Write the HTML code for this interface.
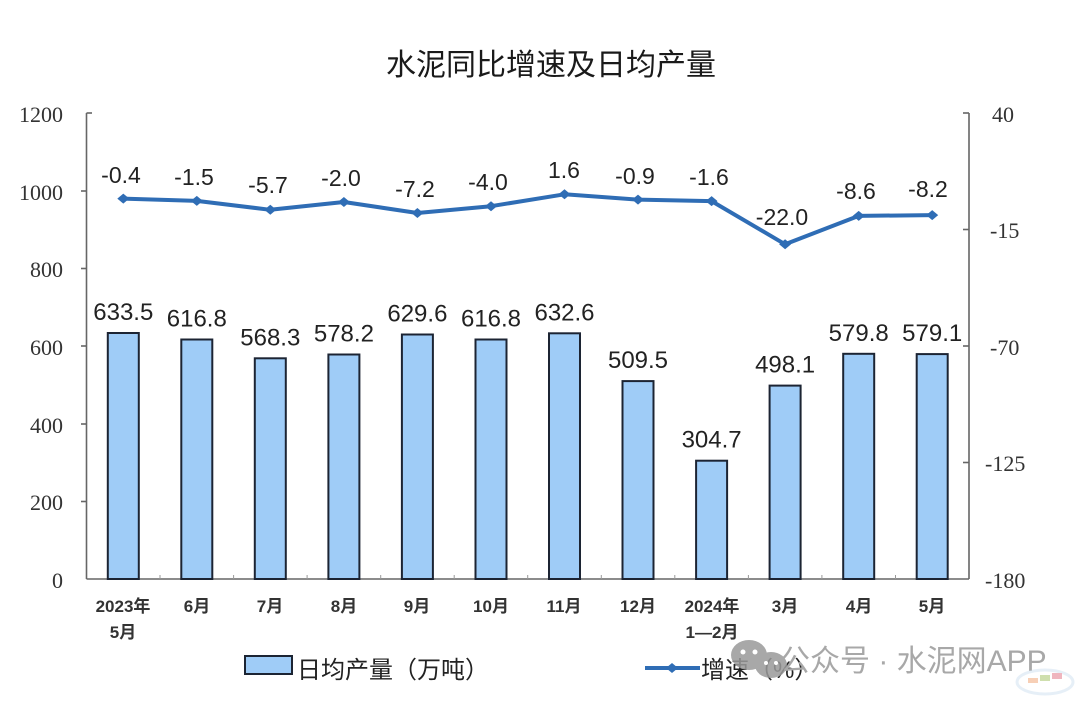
<!DOCTYPE html>
<html><head><meta charset="utf-8">
<style>
html,body{margin:0;padding:0;background:#fff;}
svg{display:block;}
</style></head>
<body>
<svg width="1080" height="703" viewBox="0 0 1080 703" xmlns="http://www.w3.org/2000/svg">
<rect width="1080" height="703" fill="#fff"/>
<text x="551" y="75" text-anchor="middle" font-family="'Liberation Sans','Noto Sans CJK SC',sans-serif" font-size="30" fill="#1a1a1a">水泥同比增速及日均产量</text>

<!-- axes -->
<g stroke="#666" stroke-width="1.6" fill="none">
<line x1="86.5" y1="113" x2="86.5" y2="579"/>
<line x1="969" y1="113" x2="969" y2="579"/>
<line x1="86.5" y1="579" x2="969" y2="579"/>
<line x1="86.5" y1="113" x2="92" y2="113"/>
<line x1="81" y1="191" x2="86.5" y2="191"/>
<line x1="81" y1="268.5" x2="86.5" y2="268.5"/>
<line x1="81" y1="346" x2="86.5" y2="346"/>
<line x1="81" y1="424" x2="86.5" y2="424"/>
<line x1="81" y1="501.5" x2="86.5" y2="501.5"/>
<line x1="963" y1="113" x2="969" y2="113"/>
<line x1="963" y1="229.5" x2="969" y2="229.5"/>
<line x1="963" y1="346" x2="969" y2="346"/>
<line x1="963" y1="462.5" x2="969" y2="462.5"/>
</g>
<g stroke="#999" stroke-width="1">
<line x1="160" y1="579" x2="160" y2="575"/>
<line x1="233.6" y1="579" x2="233.6" y2="575"/>
<line x1="307.1" y1="579" x2="307.1" y2="575"/>
<line x1="380.7" y1="579" x2="380.7" y2="575"/>
<line x1="454.2" y1="579" x2="454.2" y2="575"/>
<line x1="527.7" y1="579" x2="527.7" y2="575"/>
<line x1="601.3" y1="579" x2="601.3" y2="575"/>
<line x1="674.8" y1="579" x2="674.8" y2="575"/>
<line x1="748.4" y1="579" x2="748.4" y2="575"/>
<line x1="821.9" y1="579" x2="821.9" y2="575"/>
<line x1="895.5" y1="579" x2="895.5" y2="575"/>
</g>

<!-- left axis labels -->
<g font-family="'Liberation Serif',serif" font-size="22" fill="#333" text-anchor="end">
<text x="63" y="122">1200</text>
<text x="63" y="200">1000</text>
<text x="63" y="277">800</text>
<text x="63" y="355">600</text>
<text x="63" y="433">400</text>
<text x="63" y="510">200</text>
<text x="63" y="588">0</text>
</g>
<g font-family="'Liberation Serif',serif" font-size="22" fill="#333" text-anchor="start">
<text x="992" y="122">40</text>
<text x="990" y="238">-15</text>
<text x="990" y="355">-70</text>
<text x="985" y="471">-125</text>
<text x="985" y="588">-180</text>
</g>

<!-- bars -->
<g fill="#9fccf7" stroke="#1c2433" stroke-width="2">
<rect x="107.8" y="333" width="31" height="246"/>
<rect x="181.3" y="339.5" width="31" height="239.5"/>
<rect x="254.8" y="358.3" width="31" height="220.7"/>
<rect x="328.4" y="354.5" width="31" height="224.5"/>
<rect x="401.9" y="334.5" width="31" height="244.5"/>
<rect x="475.5" y="339.5" width="31" height="239.5"/>
<rect x="549" y="333.3" width="31" height="245.7"/>
<rect x="622.5" y="381.1" width="31" height="197.9"/>
<rect x="696.1" y="460.7" width="31" height="118.3"/>
<rect x="769.6" y="385.6" width="31" height="193.4"/>
<rect x="843.2" y="353.8" width="31" height="225.2"/>
<rect x="916.7" y="354.1" width="31" height="224.9"/>
</g>

<!-- bar labels -->
<g font-family="'Liberation Sans',sans-serif" font-size="24" fill="#222" text-anchor="middle">
<text x="123.3" y="320">633.5</text>
<text x="196.8" y="326.5">616.8</text>
<text x="270.3" y="345.3">568.3</text>
<text x="343.9" y="341.5">578.2</text>
<text x="417.4" y="321.5">629.6</text>
<text x="491" y="326.5">616.8</text>
<text x="564.5" y="320.3">632.6</text>
<text x="638" y="368.1">509.5</text>
<text x="711.6" y="447.7">304.7</text>
<text x="785.1" y="372.6">498.1</text>
<text x="858.7" y="340.8">579.8</text>
<text x="932.2" y="341.1">579.1</text>
</g>

<!-- line -->
<polyline fill="none" stroke="#2f6db5" stroke-width="4" stroke-linejoin="round"
points="123.3,198.6 196.8,200.9 270.3,209.8 343.9,202 417.4,213 491,206.2 564.5,194.3 638,199.6 711.6,201.1 785.1,244.3 858.7,215.9 932.2,215.1"/>
<g fill="#2f6db5">
<path d="M117.3,198.6 L123.3,193.6 L129.3,198.6 L123.3,203.6Z"/>
<path d="M190.8,200.9 L196.8,195.9 L202.8,200.9 L196.8,205.9Z"/>
<path d="M264.3,209.8 L270.3,204.8 L276.3,209.8 L270.3,214.8Z"/>
<path d="M337.9,202 L343.9,197 L349.9,202 L343.9,207Z"/>
<path d="M411.4,213 L417.4,208 L423.4,213 L417.4,218Z"/>
<path d="M485,206.2 L491,201.2 L497,206.2 L491,211.2Z"/>
<path d="M558.5,194.3 L564.5,189.3 L570.5,194.3 L564.5,199.3Z"/>
<path d="M632,199.6 L638,194.6 L644,199.6 L638,204.6Z"/>
<path d="M705.6,201.1 L711.6,196.1 L717.6,201.1 L711.6,206.1Z"/>
<path d="M779.1,244.3 L785.1,239.3 L791.1,244.3 L785.1,249.3Z"/>
<path d="M852.7,215.9 L858.7,210.9 L864.7,215.9 L858.7,220.9Z"/>
<path d="M926.2,215.1 L932.2,210.1 L938.2,215.1 L932.2,220.1Z"/>
</g>

<!-- line labels -->
<g font-family="'Liberation Sans',sans-serif" font-size="23" fill="#222" text-anchor="middle">
<text x="121" y="183">-0.4</text>
<text x="194" y="185">-1.5</text>
<text x="268" y="193">-5.7</text>
<text x="341" y="186">-2.0</text>
<text x="415" y="197">-7.2</text>
<text x="488" y="190">-4.0</text>
<text x="564" y="178">1.6</text>
<text x="635" y="184">-0.9</text>
<text x="709" y="185">-1.6</text>
<text x="782" y="225">-22.0</text>
<text x="856" y="199">-8.6</text>
<text x="928" y="197">-8.2</text>
</g>

<!-- x labels -->
<g font-family="'Liberation Sans','Noto Sans CJK SC',sans-serif" font-size="17" font-weight="bold" fill="#333" text-anchor="middle">
<text x="123" y="612">2023年</text>
<text x="123" y="638">5月</text>
<text x="197" y="612">6月</text>
<text x="270" y="612">7月</text>
<text x="344" y="612">8月</text>
<text x="417" y="612">9月</text>
<text x="491" y="612">10月</text>
<text x="564" y="612">11月</text>
<text x="638" y="612">12月</text>
<text x="712" y="612">2024年</text>
<text x="712" y="638">1—2月</text>
<text x="785" y="612">3月</text>
<text x="859" y="612">4月</text>
<text x="932" y="612">5月</text>
</g>

<!-- legend -->
<rect x="245" y="656" width="47" height="18" fill="#9fccf7" stroke="#1c2433" stroke-width="2"/>
<text x="297" y="678" font-family="'Liberation Sans','Noto Sans CJK SC',sans-serif" font-size="24" fill="#222">日均产量（万吨）</text>
<line x1="645" y1="668" x2="700" y2="668" stroke="#2f6db5" stroke-width="4"/>
<path d="M666,668 L672,663 L678,668 L672,673Z" fill="#2f6db5"/>
<text x="701" y="678" font-family="'Liberation Sans','Noto Sans CJK SC',sans-serif" font-size="24" fill="#222">增速（%）</text>

<!-- watermark -->
<g fill="#9a9a9a" opacity="0.85">
<ellipse cx="749" cy="655" rx="18" ry="15"/>
<ellipse cx="771" cy="665" rx="16" ry="13"/>
</g>
<g fill="#fff">
<circle cx="743" cy="652" r="2.5"/><circle cx="755" cy="652" r="2.5"/>
<circle cx="766" cy="663" r="2"/><circle cx="776" cy="663" r="2"/>
</g>
<text x="780" y="671" font-family="'Liberation Sans','Noto Sans CJK SC',sans-serif" font-size="30" fill="#a8a8a8">公众号 · 水泥网APP</text>
<g opacity="0.5">
<ellipse cx="1045" cy="682" rx="28" ry="12" fill="none" stroke="#cfe0f0" stroke-width="3"/>
<rect x="1028" y="678" width="10" height="5" fill="#f0a070"/>
<rect x="1040" y="675" width="10" height="6" fill="#a0c060"/>
<rect x="1052" y="673" width="10" height="6" fill="#e07080"/>
</g>
</svg>
</body></html>
